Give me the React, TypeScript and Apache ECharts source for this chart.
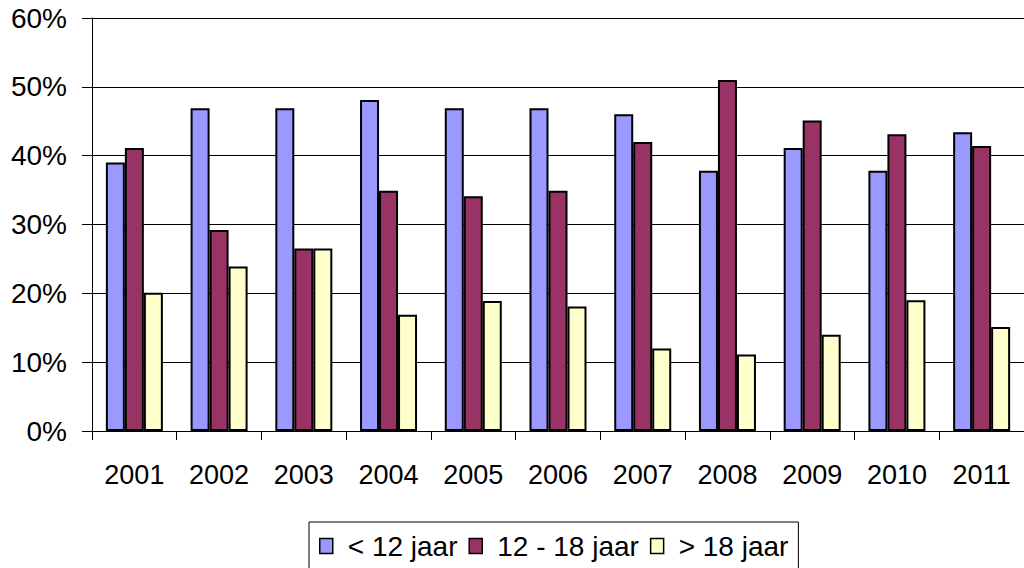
import React, { useEffect, useRef } from "react";
import * as echarts from "echarts";

const years = ["2001", "2002", "2003", "2004", "2005", "2006", "2007", "2008", "2009", "2010", "2011"];
const under12 = [39.0, 46.9, 46.9, 48.1, 46.9, 46.9, 46.0, 37.8, 41.1, 37.8, 43.4];
const from12to18 = [41.1, 29.2, 26.5, 34.9, 34.1, 34.9, 42.0, 51.0, 45.1, 43.1, 41.4];
const over18 = [20.1, 23.9, 26.5, 16.9, 18.9, 18.1, 12.0, 11.1, 14.0, 19.0, 15.1];
const seriesNames = ["< 12 jaar", "12 - 18 jaar", "> 18 jaar"];
const colors = ["#9999FF", "#993366", "#FFFFCC"];

const FONT = "'Liberation Sans', Arial, sans-serif";

export default function App() {
  const ref = useRef<HTMLDivElement>(null);
  useEffect(() => {
    if (!ref.current) return;
    const chart = echarts.init(ref.current, undefined, { renderer: "svg" });
    const data = [under12, from12to18, over18];
    chart.setOption({
      animation: false,
      backgroundColor: "#ffffff",
      textStyle: { fontFamily: FONT },
      grid: { left: 92, top: 18, bottom: 137, right: -9, containLabel: false },
      legend: {
        left: 309,
        top: 522,
        orient: "horizontal",
        borderColor: "#000",
        borderWidth: 1,
        padding: [10, 10, 10, 10],
        itemGap: 11,
        itemWidth: 13,
        itemHeight: 15,
        icon: "rect",
        textStyle: { fontFamily: FONT, fontSize: 28, color: "#000", padding: [0, 0, 0, 10] },
        data: seriesNames.map((n, i) => ({
          name: n,
          itemStyle: { color: colors[i], borderColor: "#000", borderWidth: 1.5 },
        })),
      },
      xAxis: {
        type: "category",
        data: years,
        boundaryGap: true,
        axisLine: { show: true, lineStyle: { color: "#000", width: 1 } },
        axisTick: { show: true, interval: 0, length: 9, lineStyle: { color: "#000" } },
        axisLabel: { fontFamily: FONT, fontSize: 27, color: "#000", margin: 30, interval: 0 },
        splitLine: { show: false },
      },
      yAxis: {
        type: "value",
        min: 0,
        max: 60,
        interval: 10,
        axisLine: { show: true, lineStyle: { color: "#000", width: 1 } },
        axisTick: { show: true, length: 10, lineStyle: { color: "#000" } },
        axisLabel: { fontFamily: FONT, fontSize: 28, color: "#000", margin: 25, formatter: "{value}%" },
        splitLine: { show: true, lineStyle: { color: "#000", width: 1 } },
      },
      series: seriesNames.map((n, i) => ({
        name: n,
        type: "bar",
        data: data[i],
        barWidth: 19,
        barGap: "0%",
        itemStyle: { color: colors[i], borderColor: "#000", borderWidth: 2 },
      })),
    });
    return () => chart.dispose();
  }, []);
  return (
    <div
      ref={ref}
      style={{ position: "fixed", left: 0, top: 0, width: 1024, height: 568, background: "#fff" }}
    />
  );
}
